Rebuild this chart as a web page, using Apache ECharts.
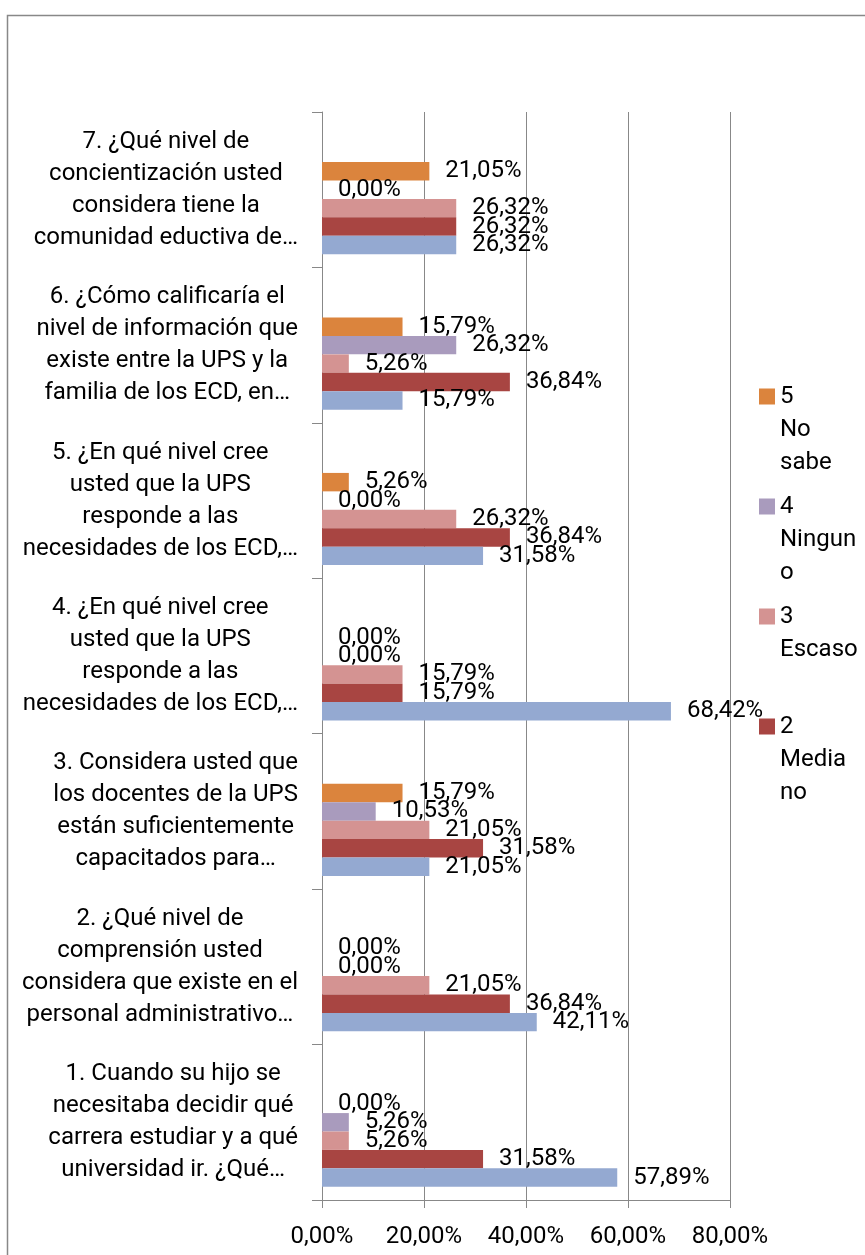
<!DOCTYPE html>
<html>
<head>
<meta charset="utf-8">
<script src="https://cdn.jsdelivr.net/npm/echarts@6/dist/echarts.min.js"></script>
<style>
  html, body { margin: 0; padding: 0; background: #fff; }
  #chart { width: 865px; height: 1255px; }
</style>
</head>
<body>
<div id="chart"></div>
<script>
// questions, bottom to top (first one sits at the bottom of the axis)
const categories = [
  '1. Cuando su hijo se\nnecesitaba decidir qué\ncarrera estudiar y a qué\nuniversidad ir. ¿Qué…',
  '2. ¿Qué nivel de\ncomprensión usted\nconsidera que existe en el\npersonal administrativo…',
  '3. Considera usted que\nlos docentes de la UPS\nestán suficientemente\ncapacitados para…',
  '4. ¿En qué nivel cree\nusted que la UPS\nresponde a las\nnecesidades de los ECD,…',
  '5. ¿En qué nivel cree\nusted que la UPS\nresponde a las\nnecesidades de los ECD,…',
  '6. ¿Cómo calificaría el\nnivel de información que\nexiste entre la UPS y la\nfamilia de los ECD, en…',
  '7. ¿Qué nivel de\nconcientización usted\nconsidera tiene la\ncomunidad eductiva de…'
];

// percentages per answer
const alto    = [57.89, 42.11, 21.05, 68.42, 31.58, 15.79, 26.32];
const mediano = [31.58, 36.84, 31.58, 15.79, 36.84, 36.84, 26.32];
const escaso  = [5.26, 21.05, 21.05, 15.79, 26.32, 5.26, 26.32];
const ninguno = [5.26, 0, 10.53, 0, 0, 26.32, 0];
const noSabe  = [0, 0, 15.79, 0, 5.26, 15.79, 21.05];

const xTicks = [0, 20, 40, 60, 80];

const legendNames = ['5 No sabe', '4 Ninguno', '3 Escaso', '2 Mediano'];
const legendWrapped = {
  '5 No sabe': '5\nNo\nsabe',
  '4 Ninguno': '4\nNingun\no',
  '3 Escaso': '3\nEscaso\n ',
  '2 Mediano': '2\nMedia\nno'
};

const FONT = 'Roboto';
const GRAY = '#888888';
const pct = v => v.toFixed(2).replace('.', ',') + '%';

// square sitting next to the first text line of a 3-line legend entry
const LEGEND_ICON = 'path://M0,0L0,0M0,8.5L16,8.5L16,24.5L0,24.5ZM0,99L0,99';

const chart = echarts.init(document.getElementById('chart'));

const dataLabel = {
  show: true,
  position: 'right',
  distance: 16,
  formatter: p => pct(p.value),
  fontFamily: FONT,
  fontSize: 24,
  color: '#000'
};

function barSeries(name, data, color) {
  return {
    name: name,
    type: 'bar',
    data: data,
    barGap: '0%',
    barCategoryGap: '17%',
    itemStyle: { color: color },
    label: dataLabel
  };
}

// top to bottom inside each band; the two empty slots keep the bars low in the band
const series = [
  barSeries('vacío 1', [], 'transparent'),
  barSeries('vacío 2', [], 'transparent'),
  barSeries('5 No sabe', noSabe, '#DB843D'),
  barSeries('4 Ninguno', ninguno, '#A99BBD'),
  barSeries('3 Escaso', escaso, '#D49392'),
  barSeries('2 Mediano', mediano, '#A84542'),
  barSeries('1 Alto', alto, '#94A9D1')
];

chart.setOption({
  animation: false,
  backgroundColor: '#fff',
  grid: { left: 322, right: 135, top: 112, bottom: 55 },
  xAxis: {
    type: 'value',
    min: xTicks[0],
    max: xTicks[xTicks.length - 1],
    interval: xTicks[1] - xTicks[0],
    axisLine: { show: true, lineStyle: { color: GRAY, width: 1 } },
    axisTick: { show: true, length: 8, lineStyle: { color: GRAY } },
    splitLine: { show: true, lineStyle: { color: GRAY, width: 1 } },
    axisLabel: {
      formatter: v => pct(v),
      margin: 21,
      fontFamily: FONT,
      fontSize: 24,
      lineHeight: 32,
      color: '#000'
    }
  },
  yAxis: {
    type: 'category',
    data: categories,
    axisLine: { show: true, lineStyle: { color: GRAY, width: 1 } },
    axisTick: { show: true, length: 10, lineStyle: { color: GRAY } },
    axisLabel: {
      interval: 0,
      margin: 24,
      align: 'right',
      formatter: v => v.split('\n').map(s => '{c|' + s + '}').join('\n'),
      rich: {
        c: { align: 'center', fontFamily: FONT, fontSize: 24, lineHeight: 32, color: '#000' }
      }
    }
  },
  legend: {
    data: legendNames,
    orient: 'vertical',
    left: 759,
    top: 380,
    padding: 0,
    itemGap: 11,
    itemWidth: 16,
    itemHeight: 99,
    icon: LEGEND_ICON,
    formatter: n => legendWrapped[n],
    textStyle: {
      fontFamily: FONT,
      fontSize: 24,
      lineHeight: 33,
      color: '#000'
    }
  },
  graphic: [{
    type: 'rect',
    left: 5,
    top: 13,
    shape: { width: 900, height: 1300 },
    style: { fill: 'none', stroke: GRAY, lineWidth: 1.5 },
    silent: true
  }],
  series: series
});
</script>
</body>
</html>
